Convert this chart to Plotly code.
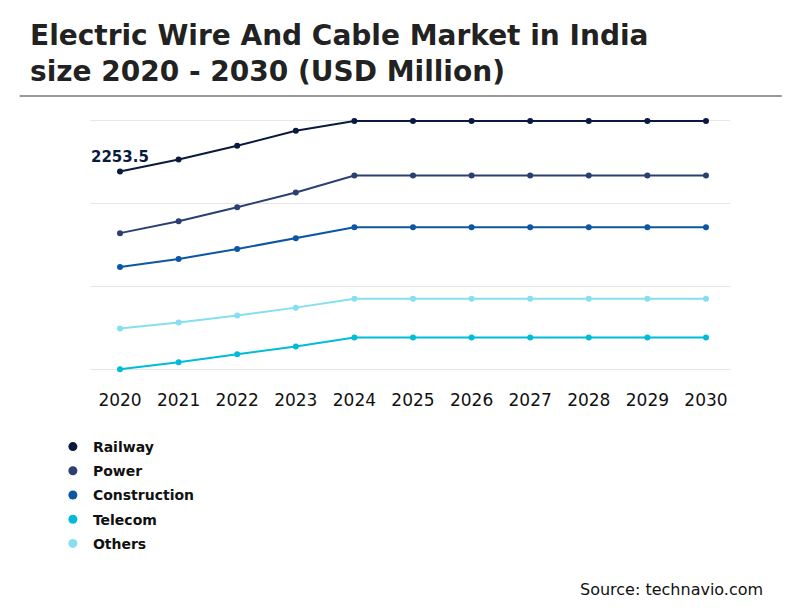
import plotly.graph_objects as go

years = [2020, 2021, 2022, 2023, 2024, 2025, 2026, 2027, 2028, 2029, 2030]
railway = [2253.5, 2389, 2547, 2717, 2830, 2830, 2830, 2830, 2830, 2830, 2830]
power = [1551, 1687, 1845, 2015, 2207, 2207, 2207, 2207, 2207, 2207, 2207]
construction = [1166, 1257, 1370, 1494, 1619, 1619, 1619, 1619, 1619, 1619, 1619]
telecom = [0, 79, 170, 260, 362, 362, 362, 362, 362, 362, 362]
others = [464, 532, 611, 702, 804, 804, 804, 804, 804, 804, 804]

series = [
    ("Railway", railway, "#0a1a3f"),
    ("Power", power, "#2b3f73"),
    ("Construction", construction, "#0b57a4"),
    ("Telecom", telecom, "#00bcd8"),
    ("Others", others, "#86dff0"),
]

fig = go.Figure()
for name, vals, col in series:
    fig.add_trace(go.Scatter(x=years, y=vals, name=name, mode="lines+markers", showlegend=False,
                             line=dict(color=col, width=2), marker=dict(size=6, color=col)))
# legend entries: dots only
for name, vals, col in series:
    fig.add_trace(go.Scatter(x=[None], y=[None], name="<b>" + name + "</b>", mode="markers",
                             legendgroup=name, marker=dict(size=9, color=col)))

fig.add_annotation(x=2020, y=railway[0], text="<b>2253.5</b>", showarrow=False,
                   yshift=14, font=dict(size=15, color="#0a1a3f"))

H = 265
fig.update_layout(
    width=800, height=610,
    paper_bgcolor="white", plot_bgcolor="rgba(0,0,0,0)",
    margin=dict(l=82, r=78, t=105, b=240),
    font=dict(family="DejaVu Sans", color="#222"),
    title=dict(text="<b>Electric Wire And Cable Market in India<br>size 2020 - 2030 (USD Million)</b>",
               x=22 / 800, xanchor="left", y=0.94, yanchor="top", yref="container",
               pad=dict(l=0, t=0), font=dict(size=28, color="#222")),
    xaxis=dict(range=[2019.488, 2030.41], tickvals=years, showgrid=False, zeroline=False,
               tickfont=dict(size=17, color="#111"), ticks="", showline=False,
               ticklabelstandoff=10),
    yaxis=dict(range=[-100, 2920], tickvals=[0, 943, 1887, 2830], showticklabels=False,
               showgrid=True, gridcolor="#e6e6e6", zeroline=False),
    legend=dict(x=-0.058, y=-0.2, xanchor="left", yanchor="top", traceorder="grouped",
                font=dict(size=14, color="#111", family="DejaVu Sans"), tracegroupgap=3,
                itemwidth=30, bgcolor="rgba(0,0,0,0)"),
    shapes=[dict(type="line", xref="paper", yref="paper", x0=-0.11, x1=1.081,
                 y0=1.0 + (112 - 95) / H, y1=1.0 + (112 - 95) / H,
                 line=dict(color="#777", width=1.5))],
)
fig.add_annotation(xref="paper", yref="paper", x=1.054, y=-0.842, xanchor="right",
                   text="Source: technavio.com", showarrow=False,
                   font=dict(size=16, color="#111"))
fig.write_html("out.html")
